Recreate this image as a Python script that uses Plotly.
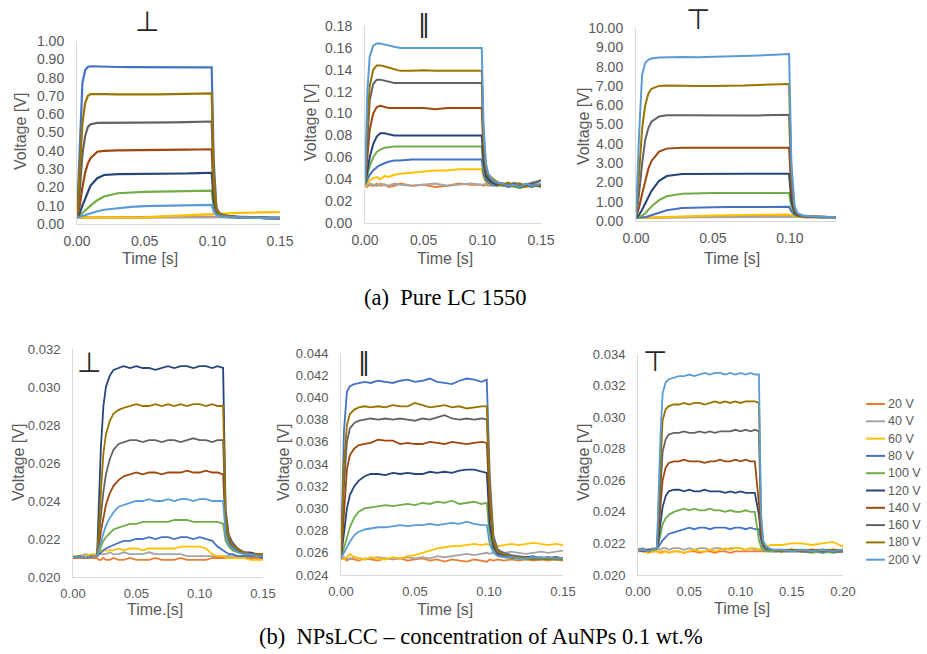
import plotly.graph_objects as go

W, H = 927, 654

VOLTAGES = ["20 V", "40 V", "60 V", "80 V", "100 V", "120 V", "140 V", "160 V", "180 V", "200 V"]
COLORS = ["#ED7D31", "#A5A5A5", "#FFC000", "#4472C4", "#70AD47",
          "#264478", "#9E480E", "#636363", "#997300", "#5B9BD5"]

# ---------------- (a) Pure LC 1550, perpendicular ----------------
A1_T = [0, 0.002, 0.004, 0.006, 0.008, 0.01, 0.015, 0.02, 0.03, 0.04, 0.05, 0.06,
        0.07, 0.08, 0.09, 0.0995, 0.101, 0.103, 0.105, 0.108, 0.112, 0.12, 0.135, 0.15]
A1_V = [
    [0.035, 0.035, 0.035, 0.035, 0.035, 0.035, 0.035, 0.035, 0.036, 0.036, 0.037, 0.038, 0.039, 0.040, 0.041, 0.042, 0.041, 0.040, 0.040, 0.039, 0.038, 0.037, 0.036, 0.035],
    [0.033, 0.033, 0.033, 0.033, 0.033, 0.033, 0.033, 0.033, 0.033, 0.033, 0.033, 0.033, 0.033, 0.034, 0.034, 0.034, 0.034, 0.035, 0.036, 0.036, 0.037, 0.037, 0.038, 0.038],
    [0.035, 0.035, 0.035, 0.035, 0.035, 0.035, 0.035, 0.035, 0.035, 0.035, 0.036, 0.040, 0.044, 0.047, 0.050, 0.052, 0.054, 0.056, 0.057, 0.058, 0.059, 0.061, 0.063, 0.065],
    [0.035, 0.40, 0.77, 0.84, 0.858, 0.862, 0.862, 0.860, 0.858, 0.857, 0.856, 0.856, 0.856, 0.856, 0.856, 0.856, 0.35, 0.09, 0.06, 0.05, 0.045, 0.04, 0.035, 0.032],
    [0.035, 0.045, 0.06, 0.075, 0.09, 0.10, 0.13, 0.15, 0.168, 0.174, 0.176, 0.177, 0.178, 0.180, 0.181, 0.182, 0.09, 0.055, 0.045, 0.04, 0.038, 0.035, 0.033, 0.031],
    [0.035, 0.06, 0.10, 0.14, 0.18, 0.21, 0.25, 0.268, 0.273, 0.273, 0.273, 0.274, 0.275, 0.276, 0.278, 0.280, 0.13, 0.06, 0.048, 0.042, 0.04, 0.036, 0.033, 0.031],
    [0.035, 0.10, 0.20, 0.28, 0.33, 0.36, 0.395, 0.400, 0.402, 0.402, 0.403, 0.404, 0.405, 0.406, 0.407, 0.408, 0.17, 0.065, 0.05, 0.043, 0.04, 0.036, 0.033, 0.031],
    [0.035, 0.18, 0.38, 0.48, 0.53, 0.545, 0.553, 0.553, 0.552, 0.551, 0.552, 0.553, 0.555, 0.557, 0.558, 0.560, 0.22, 0.075, 0.055, 0.045, 0.04, 0.036, 0.033, 0.031],
    [0.035, 0.30, 0.55, 0.66, 0.70, 0.71, 0.712, 0.710, 0.708, 0.707, 0.707, 0.708, 0.710, 0.712, 0.713, 0.714, 0.28, 0.085, 0.058, 0.047, 0.042, 0.037, 0.034, 0.031],
    [0.035, 0.04, 0.045, 0.05, 0.055, 0.06, 0.07, 0.078, 0.088, 0.094, 0.098, 0.100, 0.102, 0.104, 0.105, 0.105, 0.07, 0.05, 0.045, 0.04, 0.038, 0.035, 0.033, 0.031],
]

# ---------------- (a) Pure LC 1550, parallel ----------------
A2_T = [0, 0.002, 0.004, 0.007, 0.01, 0.013, 0.017, 0.02, 0.025, 0.03, 0.04, 0.05, 0.06, 0.07, 0.08,
        0.09, 0.0995, 0.101, 0.103, 0.105, 0.108, 0.112, 0.117, 0.122, 0.127, 0.132, 0.137, 0.142, 0.146, 0.15]
A2_V = [
    [0.034, 0.033, 0.035, 0.034, 0.036, 0.034, 0.035, 0.033, 0.034, 0.036, 0.034, 0.035, 0.033, 0.034, 0.036, 0.035, 0.035, 0.034, 0.035, 0.034, 0.035, 0.036, 0.034, 0.035, 0.034, 0.035, 0.034, 0.035, 0.034, 0.035],
    [0.035, 0.034, 0.036, 0.035, 0.034, 0.036, 0.035, 0.034, 0.036, 0.035, 0.034, 0.035, 0.036, 0.034, 0.035, 0.036, 0.035, 0.035, 0.036, 0.035, 0.034, 0.035, 0.036, 0.035, 0.037, 0.036, 0.035, 0.037, 0.038, 0.039],
    [0.034, 0.037, 0.039, 0.041, 0.042, 0.040, 0.043, 0.042, 0.044, 0.045, 0.046, 0.047, 0.048, 0.048, 0.049, 0.049, 0.049, 0.042, 0.038, 0.036, 0.035, 0.034, 0.035, 0.034, 0.035, 0.034, 0.035, 0.034, 0.035, 0.035],
    [0.035, 0.040, 0.044, 0.048, 0.051, 0.053, 0.055, 0.056, 0.057, 0.057, 0.058, 0.058, 0.058, 0.058, 0.058, 0.058, 0.058, 0.045, 0.039, 0.037, 0.035, 0.034, 0.035, 0.033, 0.034, 0.032, 0.034, 0.033, 0.034, 0.033],
    [0.035, 0.044, 0.052, 0.060, 0.065, 0.067, 0.069, 0.069, 0.070, 0.070, 0.070, 0.070, 0.070, 0.070, 0.070, 0.070, 0.070, 0.050, 0.042, 0.039, 0.036, 0.035, 0.034, 0.035, 0.033, 0.032, 0.034, 0.035, 0.034, 0.034],
    [0.035, 0.048, 0.060, 0.072, 0.079, 0.082, 0.082, 0.081, 0.080, 0.080, 0.080, 0.080, 0.080, 0.080, 0.080, 0.080, 0.080, 0.055, 0.043, 0.040, 0.037, 0.035, 0.036, 0.034, 0.035, 0.033, 0.034, 0.035, 0.034, 0.034],
    [0.035, 0.060, 0.085, 0.100, 0.106, 0.107, 0.106, 0.105, 0.105, 0.105, 0.105, 0.105, 0.104, 0.105, 0.105, 0.105, 0.105, 0.065, 0.047, 0.042, 0.039, 0.036, 0.035, 0.034, 0.035, 0.033, 0.035, 0.034, 0.035, 0.034],
    [0.035, 0.080, 0.112, 0.127, 0.131, 0.131, 0.130, 0.129, 0.128, 0.128, 0.128, 0.128, 0.128, 0.128, 0.128, 0.128, 0.128, 0.075, 0.050, 0.044, 0.040, 0.037, 0.036, 0.035, 0.036, 0.034, 0.035, 0.036, 0.037, 0.039],
    [0.035, 0.090, 0.125, 0.140, 0.144, 0.144, 0.143, 0.142, 0.140, 0.139, 0.139, 0.1395, 0.139, 0.139, 0.139, 0.139, 0.139, 0.080, 0.052, 0.045, 0.041, 0.038, 0.035, 0.037, 0.034, 0.036, 0.033, 0.035, 0.034, 0.035],
    [0.035, 0.120, 0.152, 0.162, 0.164, 0.164, 0.163, 0.162, 0.161, 0.160, 0.160, 0.1605, 0.160, 0.160, 0.160, 0.160, 0.160, 0.090, 0.055, 0.045, 0.040, 0.037, 0.036, 0.034, 0.035, 0.033, 0.036, 0.034, 0.035, 0.036],
]

# ---------------- (a) Pure LC 1550, T ----------------
A3_T = [0, 0.002, 0.004, 0.006, 0.008, 0.01, 0.015, 0.02, 0.03, 0.04, 0.05, 0.06,
        0.07, 0.08, 0.09, 0.0995, 0.101, 0.103, 0.105, 0.108, 0.112, 0.12, 0.13]
A3_V = [
    [0.15, 0.15, 0.15, 0.16, 0.16, 0.17, 0.18, 0.19, 0.21, 0.22, 0.23, 0.24, 0.25, 0.26, 0.27, 0.28, 0.26, 0.23, 0.21, 0.20, 0.20, 0.19, 0.19],
    [0.15, 0.15, 0.15, 0.15, 0.15, 0.16, 0.16, 0.17, 0.18, 0.19, 0.20, 0.20, 0.21, 0.21, 0.22, 0.22, 0.21, 0.20, 0.20, 0.19, 0.19, 0.19, 0.19],
    [0.15, 0.15, 0.15, 0.15, 0.16, 0.17, 0.19, 0.21, 0.24, 0.26, 0.28, 0.30, 0.31, 0.32, 0.33, 0.34, 0.30, 0.25, 0.22, 0.21, 0.20, 0.20, 0.20],
    [0.15, 0.16, 0.18, 0.21, 0.25, 0.30, 0.44, 0.56, 0.67, 0.70, 0.71, 0.72, 0.72, 0.73, 0.74, 0.74, 0.50, 0.32, 0.26, 0.23, 0.21, 0.20, 0.20],
    [0.15, 0.20, 0.28, 0.40, 0.57, 0.75, 1.08, 1.28, 1.41, 1.44, 1.45, 1.45, 1.45, 1.45, 1.45, 1.45, 0.75, 0.36, 0.28, 0.24, 0.22, 0.20, 0.20],
    [0.15, 0.32, 0.58, 0.88, 1.22, 1.55, 2.08, 2.33, 2.44, 2.45, 2.45, 2.45, 2.45, 2.45, 2.45, 2.45, 1.05, 0.42, 0.30, 0.25, 0.22, 0.20, 0.20],
    [0.15, 0.70, 1.40, 2.10, 2.70, 3.10, 3.60, 3.75, 3.80, 3.80, 3.80, 3.80, 3.80, 3.80, 3.80, 3.80, 1.50, 0.50, 0.32, 0.26, 0.23, 0.21, 0.20],
    [0.15, 1.40, 3.00, 4.20, 4.80, 5.15, 5.42, 5.48, 5.48, 5.47, 5.47, 5.46, 5.46, 5.47, 5.48, 5.50, 2.00, 0.60, 0.35, 0.27, 0.24, 0.22, 0.20],
    [0.15, 2.50, 4.80, 6.00, 6.60, 6.85, 7.00, 7.02, 7.00, 7.00, 7.00, 7.00, 7.02, 7.05, 7.08, 7.10, 2.50, 0.70, 0.38, 0.28, 0.24, 0.22, 0.20],
    [0.15, 4.50, 7.60, 8.20, 8.35, 8.42, 8.47, 8.48, 8.50, 8.48, 8.50, 8.52, 8.55, 8.58, 8.62, 8.65, 3.00, 0.80, 0.40, 0.30, 0.25, 0.22, 0.20],
]

# ---------------- (b) NPsLCC, perpendicular ----------------
B1_T = [0, 0.005, 0.01, 0.015, 0.019, 0.0205, 0.022, 0.024, 0.026, 0.029, 0.032, 0.036, 0.04, 0.045,
        0.05, 0.055, 0.06, 0.065, 0.07, 0.075, 0.08, 0.085, 0.09, 0.095, 0.1, 0.105, 0.11, 0.114,
        0.1185, 0.1205, 0.123, 0.126, 0.13, 0.135, 0.14, 0.145, 0.15]
B1_V = [
    [0.0210, 0.0210, 0.0210, 0.0210, 0.0210, 0.0209, 0.0209, 0.0210, 0.0209, 0.0209, 0.0210, 0.0209, 0.0209, 0.0210, 0.0209, 0.0209, 0.0209, 0.0210, 0.0209, 0.0209, 0.0209, 0.0210, 0.0209, 0.0209, 0.0209, 0.0209, 0.0210, 0.0210, 0.0210, 0.0210, 0.0210, 0.0210, 0.0210, 0.0210, 0.0210, 0.0210, 0.0210],
    [0.0211, 0.0211, 0.0212, 0.0211, 0.0211, 0.0212, 0.0212, 0.0212, 0.0212, 0.0213, 0.0212, 0.0212, 0.0213, 0.0212, 0.0212, 0.0212, 0.0213, 0.0212, 0.0212, 0.0212, 0.0212, 0.0212, 0.0211, 0.0211, 0.0211, 0.0211, 0.0211, 0.0211, 0.0211, 0.0211, 0.0211, 0.0211, 0.0211, 0.0211, 0.0211, 0.0211, 0.0211],
    [0.0211, 0.0211, 0.0211, 0.0212, 0.0212, 0.0213, 0.0214, 0.0214, 0.0214, 0.0214, 0.0214, 0.0215, 0.0214, 0.0215, 0.0215, 0.0214, 0.0215, 0.0215, 0.0215, 0.0215, 0.0215, 0.0216, 0.0216, 0.0216, 0.0216, 0.0215, 0.0212, 0.0211, 0.0211, 0.0210, 0.0210, 0.0210, 0.0210, 0.0210, 0.0209, 0.0209, 0.0209],
    [0.0210, 0.0211, 0.0210, 0.0211, 0.0211, 0.0212, 0.0213, 0.0214, 0.0215, 0.0216, 0.0217, 0.0218, 0.0219, 0.0219, 0.0220, 0.0220, 0.0221, 0.0220, 0.0221, 0.0221, 0.0220, 0.0221, 0.0221, 0.0220, 0.0221, 0.0220, 0.0219, 0.0216, 0.0214, 0.0213, 0.0212, 0.0212, 0.0211, 0.0211, 0.0211, 0.0211, 0.0210],
    [0.0210, 0.0211, 0.0210, 0.0211, 0.0211, 0.0213, 0.0216, 0.0219, 0.0221, 0.0223, 0.0225, 0.0226, 0.0227, 0.0228, 0.0228, 0.0229, 0.0229, 0.0229, 0.0229, 0.0229, 0.0230, 0.0230, 0.0230, 0.0229, 0.0229, 0.0229, 0.0229, 0.0229, 0.0228, 0.0219, 0.0216, 0.0214, 0.0213, 0.0212, 0.0212, 0.0211, 0.0211],
    [0.0210, 0.0211, 0.0210, 0.0211, 0.0211, 0.0240, 0.0268, 0.0290, 0.0300, 0.0306, 0.0309, 0.0310, 0.0311, 0.0310, 0.0311, 0.0310, 0.0310, 0.0309, 0.0310, 0.0311, 0.0310, 0.0311, 0.0311, 0.0310, 0.0311, 0.0311, 0.0310, 0.0311, 0.0310, 0.0235, 0.0222, 0.0218, 0.0215, 0.0213, 0.0213, 0.0212, 0.0212],
    [0.0210, 0.0211, 0.0210, 0.0211, 0.0211, 0.0216, 0.0224, 0.0232, 0.0238, 0.0244, 0.0248, 0.0251, 0.0253, 0.0254, 0.0255, 0.0254, 0.0255, 0.0255, 0.0254, 0.0255, 0.0255, 0.0255, 0.0256, 0.0255, 0.0255, 0.0256, 0.0255, 0.0255, 0.0254, 0.0225, 0.0218, 0.0215, 0.0214, 0.0213, 0.0212, 0.0212, 0.0211],
    [0.0210, 0.0211, 0.0210, 0.0211, 0.0211, 0.0220, 0.0232, 0.0245, 0.0254, 0.0262, 0.0267, 0.0270, 0.0271, 0.0272, 0.0272, 0.0271, 0.0272, 0.0272, 0.0271, 0.0272, 0.0272, 0.0271, 0.0272, 0.0273, 0.0272, 0.0272, 0.0271, 0.0272, 0.0272, 0.0228, 0.0220, 0.0216, 0.0214, 0.0213, 0.0212, 0.0212, 0.0212],
    [0.0210, 0.0211, 0.0210, 0.0211, 0.0211, 0.0225, 0.0245, 0.0265, 0.0275, 0.0282, 0.0286, 0.0288, 0.0289, 0.0290, 0.0291, 0.0290, 0.0290, 0.0291, 0.0290, 0.0291, 0.0290, 0.0291, 0.0290, 0.0291, 0.0291, 0.0290, 0.0291, 0.0290, 0.0290, 0.0232, 0.0221, 0.0217, 0.0215, 0.0213, 0.0212, 0.0212, 0.0212],
    [0.0210, 0.0211, 0.0210, 0.0211, 0.0211, 0.0214, 0.0218, 0.0223, 0.0227, 0.0231, 0.0234, 0.0237, 0.0238, 0.0239, 0.0240, 0.0240, 0.0241, 0.0240, 0.0240, 0.0241, 0.0240, 0.0241, 0.0241, 0.0240, 0.0241, 0.0241, 0.0240, 0.0240, 0.0240, 0.0222, 0.0217, 0.0215, 0.0213, 0.0212, 0.0212, 0.0211, 0.0211],
]

# ---------------- (b) NPsLCC, parallel ----------------
B2_T = [0, 0.002, 0.004, 0.006, 0.009, 0.012, 0.016, 0.02, 0.025, 0.03, 0.035, 0.04, 0.045, 0.05,
        0.055, 0.06, 0.065, 0.07, 0.075, 0.08, 0.085, 0.09, 0.095, 0.0985, 0.1005, 0.103, 0.106,
        0.11, 0.115, 0.12, 0.125, 0.13, 0.135, 0.14, 0.145, 0.15]
B2_V = [
    [0.0254, 0.0255, 0.0253, 0.0255, 0.0254, 0.0253, 0.0255, 0.0254, 0.0253, 0.0255, 0.0254, 0.0255, 0.0253, 0.0254, 0.0255, 0.0253, 0.0254, 0.0252, 0.0254, 0.0253, 0.0252, 0.0254, 0.0253, 0.0252, 0.0254, 0.0253, 0.0254, 0.0253, 0.0254, 0.0253, 0.0254, 0.0253, 0.0254, 0.0253, 0.0254, 0.0253],
    [0.0255, 0.0256, 0.0255, 0.0254, 0.0256, 0.0255, 0.0254, 0.0255, 0.0256, 0.0255, 0.0254, 0.0255, 0.0256, 0.0255, 0.0256, 0.0255, 0.0257, 0.0256, 0.0257, 0.0258, 0.0259, 0.0258, 0.0259, 0.0260, 0.0259, 0.0260, 0.0259, 0.0260, 0.0261, 0.0260, 0.0259, 0.0260, 0.0261, 0.0260, 0.0261, 0.0262],
    [0.0255, 0.0254, 0.0256, 0.0259, 0.0256, 0.0255, 0.0254, 0.0256, 0.0255, 0.0254, 0.0256, 0.0255, 0.0257, 0.0258, 0.0260, 0.0262, 0.0264, 0.0265, 0.0266, 0.0266, 0.0267, 0.0268, 0.0267, 0.0268, 0.0267, 0.0267, 0.0266, 0.0267, 0.0268, 0.0267, 0.0268, 0.0269, 0.0268, 0.0267, 0.0268, 0.0267],
    [0.0255, 0.0370, 0.0405, 0.0410, 0.0412, 0.0413, 0.0414, 0.0413, 0.0415, 0.0414, 0.0413, 0.0415, 0.0416, 0.0414, 0.0415, 0.0417, 0.0414, 0.0413, 0.0412, 0.0415, 0.0417, 0.0416, 0.0414, 0.0416, 0.0330, 0.0275, 0.0263, 0.0260, 0.0258, 0.0257, 0.0256, 0.0257, 0.0255, 0.0256, 0.0254, 0.0255],
    [0.0255, 0.0265, 0.0275, 0.0283, 0.0292, 0.0297, 0.0300, 0.0301, 0.0302, 0.0303, 0.0302, 0.0303, 0.0304, 0.0303, 0.0305, 0.0304, 0.0306, 0.0305, 0.0307, 0.0304, 0.0305, 0.0306, 0.0304, 0.0305, 0.0275, 0.0262, 0.0258, 0.0256, 0.0255, 0.0255, 0.0254, 0.0254, 0.0255, 0.0254, 0.0254, 0.0254],
    [0.0255, 0.0280, 0.0300, 0.0312, 0.0320, 0.0325, 0.0329, 0.0331, 0.0331, 0.0330, 0.0332, 0.0331, 0.0332, 0.0331, 0.0331, 0.0333, 0.0332, 0.0333, 0.0332, 0.0334, 0.0335, 0.0335, 0.0333, 0.0332, 0.0285, 0.0265, 0.0259, 0.0257, 0.0256, 0.0255, 0.0256, 0.0255, 0.0254, 0.0255, 0.0256, 0.0255],
    [0.0255, 0.0300, 0.0335, 0.0348, 0.0354, 0.0357, 0.0358, 0.0359, 0.0362, 0.0361, 0.0361, 0.0358, 0.0359, 0.0358, 0.0358, 0.0360, 0.0359, 0.0358, 0.0360, 0.0359, 0.0358, 0.0359, 0.0360, 0.0359, 0.0300, 0.0268, 0.0260, 0.0258, 0.0257, 0.0256, 0.0256, 0.0255, 0.0255, 0.0256, 0.0255, 0.0255],
    [0.0255, 0.0320, 0.0360, 0.0372, 0.0377, 0.0379, 0.0380, 0.0381, 0.0380, 0.0381, 0.0380, 0.0381, 0.0380, 0.0379, 0.0381, 0.0380, 0.0382, 0.0384, 0.0381, 0.0380, 0.0381, 0.0380, 0.0381, 0.0380, 0.0315, 0.0270, 0.0260, 0.0257, 0.0256, 0.0255, 0.0256, 0.0255, 0.0256, 0.0255, 0.0256, 0.0255],
    [0.0255, 0.0340, 0.0375, 0.0385, 0.0389, 0.0391, 0.0392, 0.0391, 0.0392, 0.0391, 0.0393, 0.0392, 0.0392, 0.0395, 0.0393, 0.0391, 0.0392, 0.0393, 0.0391, 0.0392, 0.0390, 0.0391, 0.0392, 0.0392, 0.0320, 0.0272, 0.0262, 0.0259, 0.0257, 0.0256, 0.0255, 0.0254, 0.0254, 0.0255, 0.0254, 0.0254],
    [0.0255, 0.0260, 0.0265, 0.0270, 0.0276, 0.0279, 0.0281, 0.0282, 0.0283, 0.0283, 0.0284, 0.0285, 0.0284, 0.0285, 0.0285, 0.0286, 0.0285, 0.0286, 0.0287, 0.0286, 0.0288, 0.0286, 0.0285, 0.0285, 0.0268, 0.0260, 0.0257, 0.0256, 0.0256, 0.0255, 0.0255, 0.0256, 0.0255, 0.0256, 0.0255, 0.0255],
]

# ---------------- (b) NPsLCC, T ----------------
B3_T = [0, 0.005, 0.01, 0.015, 0.0185, 0.02, 0.022, 0.024, 0.027, 0.03, 0.035, 0.04, 0.045, 0.05,
        0.055, 0.06, 0.065, 0.07, 0.075, 0.08, 0.085, 0.09, 0.095, 0.1, 0.105, 0.11, 0.114, 0.118,
        0.12, 0.122, 0.125, 0.13, 0.14, 0.15, 0.16, 0.17, 0.18, 0.19, 0.2]
B3_V = [
    [0.0215, 0.0215, 0.0214, 0.0215, 0.0215, 0.0215, 0.0214, 0.0215, 0.0215, 0.0214, 0.0215, 0.0215, 0.0214, 0.0215, 0.0215, 0.0214, 0.0215, 0.0215, 0.0214, 0.0215, 0.0215, 0.0214, 0.0215, 0.0215, 0.0215, 0.0215, 0.0215, 0.0215, 0.0215, 0.0215, 0.0215, 0.0215, 0.0215, 0.0215, 0.0215, 0.0215, 0.0215, 0.0215, 0.0215],
    [0.0216, 0.0217, 0.0216, 0.0217, 0.0216, 0.0217, 0.0216, 0.0217, 0.0217, 0.0216, 0.0217, 0.0217, 0.0216, 0.0217, 0.0216, 0.0217, 0.0217, 0.0216, 0.0217, 0.0217, 0.0216, 0.0217, 0.0217, 0.0217, 0.0216, 0.0217, 0.0216, 0.0216, 0.0216, 0.0216, 0.0216, 0.0216, 0.0216, 0.0216, 0.0216, 0.0216, 0.0216, 0.0216, 0.0216],
    [0.0216, 0.0215, 0.0214, 0.0215, 0.0215, 0.0214, 0.0215, 0.0214, 0.0215, 0.0214, 0.0215, 0.0215, 0.0214, 0.0215, 0.0216, 0.0215, 0.0215, 0.0216, 0.0215, 0.0216, 0.0217, 0.0216, 0.0217, 0.0217, 0.0216, 0.0217, 0.0217, 0.0216, 0.0217, 0.0218, 0.0218, 0.0219, 0.0219, 0.0220, 0.0220, 0.0219, 0.0220, 0.0221, 0.0218],
    [0.0216, 0.0216, 0.0215, 0.0216, 0.0217, 0.0218, 0.0220, 0.0222, 0.0224, 0.0226, 0.0227, 0.0228, 0.0229, 0.0230, 0.0229, 0.0230, 0.0230, 0.0229, 0.0230, 0.0230, 0.0230, 0.0229, 0.0230, 0.0230, 0.0229, 0.0230, 0.0229, 0.0229, 0.0222, 0.0218, 0.0216, 0.0215, 0.0215, 0.0215, 0.0215, 0.0215, 0.0214, 0.0215, 0.0215],
    [0.0216, 0.0216, 0.0215, 0.0216, 0.0217, 0.0220, 0.0227, 0.0232, 0.0236, 0.0238, 0.0240, 0.0241, 0.0242, 0.0241, 0.0242, 0.0241, 0.0241, 0.0242, 0.0241, 0.0241, 0.0240, 0.0241, 0.0240, 0.0240, 0.0241, 0.0240, 0.0240, 0.0222, 0.0218, 0.0216, 0.0215, 0.0215, 0.0215, 0.0215, 0.0215, 0.0214, 0.0215, 0.0214, 0.0215],
    [0.0216, 0.0215, 0.0216, 0.0216, 0.0217, 0.0222, 0.0233, 0.0243, 0.0250, 0.0253, 0.0254, 0.0254, 0.0253, 0.0254, 0.0253, 0.0253, 0.0254, 0.0253, 0.0253, 0.0253, 0.0252, 0.0253, 0.0252, 0.0253, 0.0252, 0.0252, 0.0252, 0.0238, 0.0225, 0.0219, 0.0217, 0.0216, 0.0215, 0.0216, 0.0215, 0.0215, 0.0216, 0.0215, 0.0215],
    [0.0216, 0.0216, 0.0215, 0.0216, 0.0217, 0.0228, 0.0245, 0.0260, 0.0268, 0.0271, 0.0272, 0.0272, 0.0273, 0.0272, 0.0272, 0.0272, 0.0271, 0.0272, 0.0272, 0.0273, 0.0272, 0.0272, 0.0273, 0.0272, 0.0273, 0.0272, 0.0272, 0.0245, 0.0226, 0.0219, 0.0217, 0.0216, 0.0215, 0.0216, 0.0215, 0.0216, 0.0215, 0.0216, 0.0215],
    [0.0216, 0.0215, 0.0216, 0.0216, 0.0217, 0.0232, 0.0258, 0.0278, 0.0286, 0.0289, 0.0290, 0.0290, 0.0291, 0.0290, 0.0290, 0.0291, 0.0290, 0.0291, 0.0290, 0.0291, 0.0291, 0.0291, 0.0292, 0.0291, 0.0292, 0.0291, 0.0292, 0.0291, 0.0232, 0.0220, 0.0217, 0.0216, 0.0215, 0.0216, 0.0215, 0.0215, 0.0216, 0.0215, 0.0215],
    [0.0216, 0.0216, 0.0215, 0.0216, 0.0217, 0.0240, 0.0275, 0.0298, 0.0305, 0.0307, 0.0308, 0.0308, 0.0309, 0.0308, 0.0309, 0.0309, 0.0308, 0.0309, 0.0310, 0.0309, 0.0310, 0.0309, 0.0310, 0.0309, 0.0310, 0.0310, 0.0310, 0.0309, 0.0235, 0.0221, 0.0218, 0.0216, 0.0215, 0.0216, 0.0215, 0.0216, 0.0215, 0.0216, 0.0215],
    [0.0216, 0.0216, 0.0215, 0.0216, 0.0217, 0.0250, 0.0290, 0.0315, 0.0322, 0.0324, 0.0325, 0.0326, 0.0326, 0.0327, 0.0326, 0.0327, 0.0328, 0.0327, 0.0328, 0.0328, 0.0327, 0.0328, 0.0327, 0.0328, 0.0327, 0.0328, 0.0327, 0.0327, 0.0240, 0.0222, 0.0218, 0.0216, 0.0216, 0.0215, 0.0216, 0.0215, 0.0216, 0.0215, 0.0216],
]

PANEL_GLYPHS = ["\u22a5", "\u2016", "\u22a4", "\u22a5", "\u2016", "\u22a4"]
X_TITLES = ["Time [s]", "Time [s]", "Time [s]", "Time.[s]", "Time [s]", "Time [s]"]
Y_TITLE = "Voltage [V]"
CAPTION_A = "(a)  Pure LC 1550"
CAPTION_B = "(b)  NPsLCC \u2013 concentration of AuNPs 0.1 wt.%"

PANELS = [
    dict(t=A1_T, v=A1_V, px=(77, 280), py=(41, 224), xr=[0, 0.15], yr=[0, 1.0], xd=0.05, yd=0.1, yf=".2f", fs=14,
         ytx=(20, 132), xtx=(150, 258), gl=(147, 22), lw=2.2),
    dict(t=A2_T, v=A2_V, px=(365, 541), py=(26, 223), xr=[0, 0.15], yr=[0, 0.18], xd=0.05, yd=0.02, yf=".2f", fs=14,
         ytx=(311, 123), xtx=(445, 258), gl=(424, 24), lw=2.0),
    dict(t=A3_T, v=A3_V, px=(636, 836), py=(28, 221), xr=[0, 0.13], yr=[0, 10], xd=0.05, yd=1, yf=".2f", fs=14,
         ytx=(583, 127), xtx=(732, 258), gl=(698, 19), lw=2.0),
    dict(t=B1_T, v=B1_V, px=(73, 263), py=(349, 577), xr=[0, 0.15], yr=[0.020, 0.032], xd=0.05, yd=0.002, yf=".3f", fs=13,
         ytx=(18, 463), xtx=(155, 609), gl=(89, 362), lw=1.8),
    dict(t=B2_T, v=B2_V, px=(341, 563), py=(353, 575), xr=[0, 0.15], yr=[0.024, 0.044], xd=0.05, yd=0.002, yf=".3f", fs=13,
         ytx=(283, 463), xtx=(445, 609), gl=(364, 362), lw=1.8),
    dict(t=B3_T, v=B3_V, px=(638, 843), py=(354, 575), xr=[0, 0.20], yr=[0.020, 0.034], xd=0.05, yd=0.002, yf=".3f", fs=13,
         ytx=(583, 463), xtx=(742, 608), gl=(655, 361), lw=1.8),
]
GLYPH_SIZES = [28, 24, 28, 28, 24, 28]

# legend block (layout positions in pixels)
LEG_X0, LEG_Y0, LEG_DY, LEG_LEN = 866, 404, 17.3, 19

TICK_COLOR = "#595959"
SANS = "Liberation Sans, Arial, sans-serif"
SERIF = "Liberation Serif, Times New Roman, serif"


def px_x(p):
    return p / W


def px_y(p):
    return 1 - p / H


fig = go.Figure()
annotations = []
shapes = []
layout_axes = {}

for i, P in enumerate(PANELS):
    n = i + 1
    xa = "x" if n == 1 else f"x{n}"
    ya = "y" if n == 1 else f"y{n}"
    for k, name in enumerate(VOLTAGES):
        fig.add_trace(go.Scatter(
            x=P["t"], y=P["v"][k], mode="lines", name=name,
            line=dict(color=COLORS[k], width=P["lw"]),
            xaxis=xa, yaxis=ya, legendgroup=name, showlegend=False,
        ))
    xkey = "xaxis" if n == 1 else f"xaxis{n}"
    ykey = "yaxis" if n == 1 else f"yaxis{n}"
    layout_axes[xkey] = dict(
        domain=[px_x(P["px"][0]), px_x(P["px"][1])], range=P["xr"], anchor=ya,
        dtick=P["xd"], tick0=0, tickformat=".2f", showgrid=False, zeroline=False,
        showline=True, linecolor="#D9D9D9", linewidth=1, ticks="", automargin=False,
        tickfont=dict(family=SANS, size=P["fs"], color=TICK_COLOR), ticklabelstandoff=4,
    )
    layout_axes[ykey] = dict(
        domain=[px_y(P["py"][1]), px_y(P["py"][0])], range=P["yr"], anchor=xa,
        dtick=P["yd"], tick0=P["yr"][0], tickformat=P["yf"], showgrid=False, zeroline=False,
        showline=True, linecolor="#D9D9D9", linewidth=1, ticks="", automargin=False,
        tickfont=dict(family=SANS, size=P["fs"], color=TICK_COLOR), ticklabelstandoff=9,
    )
    annotations.append(dict(text=Y_TITLE, x=px_x(P["ytx"][0]), y=px_y(P["ytx"][1]), xref="paper", yref="paper",
                            showarrow=False, textangle=-90, xanchor="center", yanchor="middle",
                            font=dict(family=SANS, size=16, color=TICK_COLOR)))
    annotations.append(dict(text=X_TITLES[i], x=px_x(P["xtx"][0]), y=px_y(P["xtx"][1]), xref="paper", yref="paper",
                            showarrow=False, xanchor="center", yanchor="middle",
                            font=dict(family=SANS, size=16, color=TICK_COLOR)))
    annotations.append(dict(text=PANEL_GLYPHS[i], x=px_x(P["gl"][0]), y=px_y(P["gl"][1]), xref="paper", yref="paper",
                            showarrow=False, xanchor="center", yanchor="middle",
                            font=dict(family="DejaVu Sans", size=GLYPH_SIZES[i], color="#262626")))

# legend (series names and colours from VOLTAGES / COLORS)
for k, name in enumerate(VOLTAGES):
    yy = LEG_Y0 + k * LEG_DY
    shapes.append(dict(type="line", xref="paper", yref="paper",
                       x0=px_x(LEG_X0), x1=px_x(LEG_X0 + LEG_LEN), y0=px_y(yy), y1=px_y(yy),
                       line=dict(color=COLORS[k], width=2)))
    annotations.append(dict(text=name, x=px_x(LEG_X0 + LEG_LEN + 2), y=px_y(yy), xref="paper", yref="paper",
                            showarrow=False, xanchor="left", yanchor="middle", borderpad=0,
                            font=dict(family=SANS, size=12.5, color=TICK_COLOR)))

annotations.append(dict(text=CAPTION_A, x=px_x(445), y=px_y(297), xref="paper", yref="paper", showarrow=False,
                        xanchor="center", yanchor="middle", font=dict(family=SERIF, size=22.5, color="#000000")))
annotations.append(dict(text=CAPTION_B, x=px_x(481), y=px_y(636), xref="paper", yref="paper", showarrow=False,
                        xanchor="center", yanchor="middle", font=dict(family=SERIF, size=22.5, color="#000000")))

fig.update_layout(
    width=W, height=H, margin=dict(l=0, r=0, t=0, b=0, autoexpand=False),
    paper_bgcolor="white", plot_bgcolor="white", showlegend=False,
    annotations=annotations, shapes=shapes,
    **layout_axes,
)

fig.write_html("out.html")
